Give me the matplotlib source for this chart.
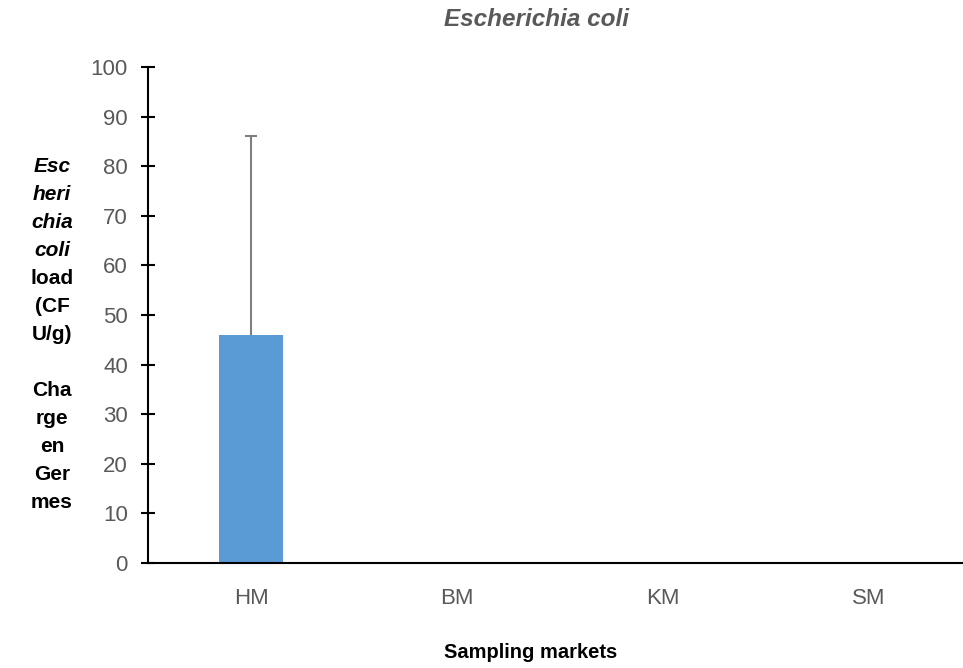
import matplotlib
matplotlib.use("Agg")
import matplotlib.pyplot as plt

# data
markets = ["HM", "BM", "KM", "SM"]
ecoli_load = [46, 0, 0, 0]
err_plus = [40, 0, 0, 0]
yticks = [0, 10, 20, 30, 40, 50, 60, 70, 80, 90, 100]

# y label, broken in short pieces like the original (text, italic?)
ylabel_lines = [
    ("Esc", True), ("heri", True), ("chia", True), ("coli", True),
    ("load", False), ("(CF", False), ("U/g)", False), ("", False),
    ("Cha", False), ("rge", False), ("en", False), ("Ger", False), ("mes", False),
]

plt.rcParams["font.family"] = ["Liberation Sans", "DejaVu Sans"]

W, H = 963, 668
fig = plt.figure(figsize=(W / 100, H / 100), dpi=100)

# plot area in pixels: left 148, right edge of image, y=0 at 563, y=100 at 67
left, right, bottom, top = 148, 963, 563, 67
ax = fig.add_axes([left / W, 1 - bottom / H, (right - left) / W, (bottom - top) / H])

x = list(range(len(markets)))
bar_color = "#5B9BD5"
ax.bar(x, ecoli_load, width=0.314, color=bar_color, zorder=2)

# only plus error bars, and only where there is an error
ex = [i for i in x if err_plus[i] > 0]
ey = [ecoli_load[i] for i in ex]
ee = [[0] * len(ex), [err_plus[i] for i in ex]]
eb = ax.errorbar(ex, ey, yerr=ee, fmt="none", ecolor="#7F7F7F", elinewidth=1.5,
                 capsize=4, capthick=1.5, zorder=1)
# hide the lower cap (sits on the bar top in the original it is not drawn)
caps = eb[1]
if len(caps) > 1:
    caps[0].set_visible(False)

ax.set_xlim(-0.5, 3.5 - 9 / 206)
ax.set_ylim(0, 100)
ax.set_yticks(yticks)
ax.set_xticks(x)
ax.set_xticklabels(markets)

for s in ["top", "right"]:
    ax.spines[s].set_visible(False)
ax.spines["left"].set_linewidth(1.5)
ax.spines["bottom"].set_linewidth(1.5)

ax.tick_params(axis="y", direction="inout", length=10, width=1.5, pad=9.5,
               labelsize=16, labelcolor="#595959")
ax.tick_params(axis="x", length=0, pad=18, labelsize=16, labelcolor="#595959")

fig.text(537 / W, 1 - 20 / H, "Escherichia coli", ha="center", va="center",
         fontsize=17.5, fontweight="bold", fontstyle="italic", color="#595959")

fig.text(531 / W, 1 - 653 / H, "Sampling markets", ha="center", va="center",
         fontsize=14.5, fontweight="bold", color="black")

y0, step = 166, 28
for i, (txt, ital) in enumerate(ylabel_lines):
    if not txt:
        continue
    fig.text(52 / W, 1 - (y0 + i * step) / H, txt, ha="center", va="center",
             fontsize=15, fontweight="bold",
             fontstyle="italic" if ital else "normal", color="black")

fig.savefig("out.png", dpi=100)
